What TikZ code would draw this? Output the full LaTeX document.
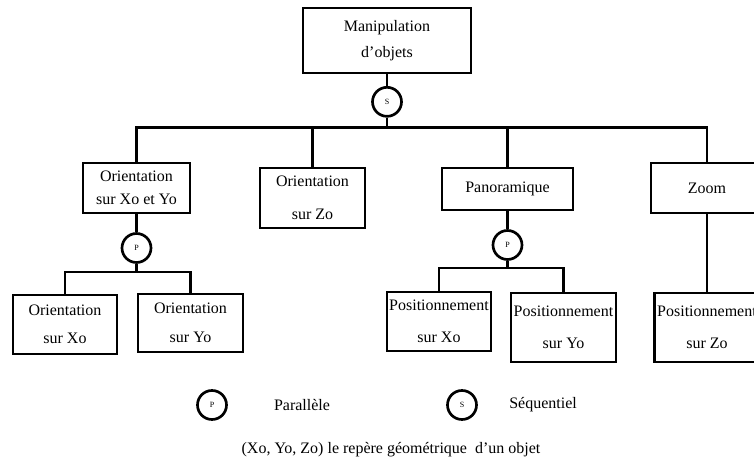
\documentclass[tikz,border=0pt]{standalone}
\usepackage{fontspec}
\setmainfont{Liberation Serif}
\usetikzlibrary{positioning}
\tikzstyle{block}=[draw,rectangle,line width=2pt,inner sep=1pt,align=center]
\tikzstyle{junction}=[draw,circle,line width=2pt,minimum size=21.75pt,inner sep=0pt,font=\fontsize{6}{7}\selectfont]
\tikzstyle{every node}=[font=\fontsize{12}{14.4}\selectfont]
\begin{document}
\begin{tikzpicture}[x=0.75pt,y=-0.75pt,line width=2pt]
    \useasboundingbox (0,0) rectangle (754,466);
    \node[block, minimum width=126pt, minimum height=48.75pt] (manip) at (387,40.5) {Manipulation\\[5pt]d’objets};
    \node[junction, below of=manip, node distance=46pt] (s) {S};
    \coordinate[below of=s, node distance=19.5pt] (bar);
    \node[block, minimum width=80.25pt, minimum height=37.5pt] (oxy) at (136.5,188) {Orientation\\[3pt]sur Xo et Yo};
    \node[block, minimum width=78.75pt, minimum height=45pt] (ozo) at (312.5,198) {Orientation\\[10pt]sur Zo};
    \node[block, minimum width=98.25pt, minimum height=31.5pt] (pano) at (507.5,189) {Panoramique};
    \node[block, minimum width=84pt, minimum height=37.5pt] (zoom) at (707,188) {Zoom};
    \node[junction, below of=oxy, node distance=45pt] (p1) {P};
    \coordinate[below of=p1, node distance=18pt] (j1);
    \node[block, minimum width=78pt, minimum height=44.25pt] (oxo) at (65,324.5) {Orientation\\[7pt]sur Xo};
    \node[block, minimum width=78.75pt, minimum height=43.5pt] (oyo) at (190.5,323) {Orientation\\[7pt]sur Yo};
    \node[junction, below of=pano, node distance=42pt] (p2) {P};
    \coordinate[below of=p2, node distance=17.25pt] (j2);
    \node[block, minimum width=78pt, minimum height=44.25pt] (pxo) at (439,321.5) {Positionnement\\[10pt]sur Xo};
    \node[block, minimum width=78.75pt, minimum height=51.75pt] (pyo) at (563.5,327.5) {Positionnement\\[10pt]sur Yo};
    \node[block, minimum width=78.75pt, minimum height=51.75pt] (pzo) at (707,327.5) {Positionnement\\[10pt]sur Zo};
    % legende
    \node[junction] (lp) at (212,405) {P};
    \node (lpt) at (302,405) {Parallèle};
    \node[junction] (ls) at (462,405) {S};
    \node[anchor=west, inner sep=0pt] (lst) at (508,405) {Séquentiel};
    \node (rep) at (391,450) {(Xo, Yo, Zo) le repère géométrique\ \ d’un objet};
    \draw (manip) -- (s);
    \draw (s) -- (bar);
    \draw (bar) -| (oxy);
    \draw (bar) -| (ozo);
    \draw (bar) -| (pano);
    \draw (bar) -| (zoom);
    \draw (oxy) -- (p1);
    \draw (p1) -- (j1);
    \draw (j1) -| (oxo);
    \draw (j1) -| (oyo);
    \draw (pano) -- (p2);
    \draw (p2) -- (j2);
    \draw (j2) -| (pxo);
    \draw (j2) -| (pyo);
    \draw (zoom) -- (pzo);
\end{tikzpicture}
\end{document}
